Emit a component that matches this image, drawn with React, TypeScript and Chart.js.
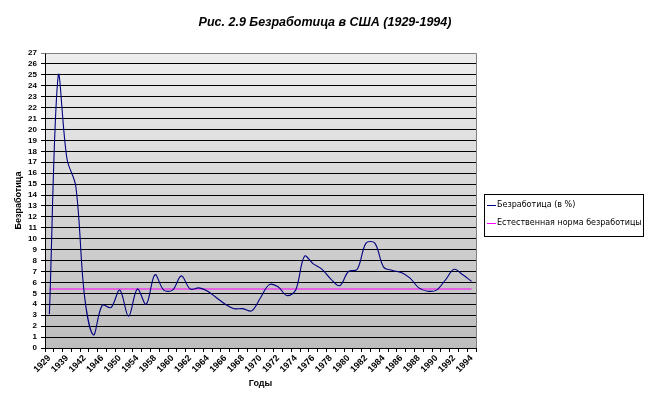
import React, { useEffect, useRef } from 'react';
import { Chart, registerables } from 'chart.js';

Chart.register(...registerables);

// Categories (years) as shown on the category axis
const years = [
  '1929', '1933', '1939', '1940', '1942', '1944', '1946', '1948', '1950', '1952',
  '1954', '1956', '1958', '1959', '1960', '1961', '1962', '1963', '1964', '1965',
  '1966', '1967', '1968', '1969', '1970', '1971', '1972', '1973', '1974', '1975',
  '1976', '1977', '1978', '1979', '1980', '1981', '1982', '1983', '1984', '1985',
  '1986', '1987', '1988', '1989', '1990', '1991', '1992', '1993', '1994',
];

// Unemployment rate, %
const unemployment = [
  3.1, 24.9, 17.3, 14.8, 4.7, 1.2, 3.9, 3.7, 5.3, 2.9,
  5.4, 4.0, 6.7, 5.3, 5.3, 6.6, 5.4, 5.5, 5.2, 4.6,
  4.0, 3.6, 3.6, 3.4, 4.6, 5.8, 5.6, 4.8, 5.3, 8.4,
  7.7, 7.2, 6.3, 5.7, 7.0, 7.2, 9.6, 9.6, 7.4, 7.1,
  6.9, 6.4, 5.5, 5.2, 5.3, 6.2, 7.2, 6.7, 6.1,
];

// Natural rate of unemployment, %
const naturalRate = [
  5.4, 5.4, 5.4, 5.4, 5.4, 5.4, 5.4, 5.4, 5.4, 5.4,
  5.4, 5.4, 5.4, 5.4, 5.4, 5.4, 5.4, 5.4, 5.4, 5.4,
  5.4, 5.4, 5.4, 5.4, 5.4, 5.4, 5.4, 5.4, 5.4, 5.4,
  5.4, 5.4, 5.4, 5.4, 5.4, 5.4, 5.4, 5.4, 5.4, 5.4,
  5.4, 5.4, 5.4, 5.4, 5.4, 5.4, 5.4, 5.4, 5.4,
];

const Y_MIN = 0;
const Y_MAX = 27;
const Y_STEP = 1;

const TITLE = 'Рис. 2.9 Безработица в США (1929-1994)';
const Y_TITLE = 'Безработица';
const X_TITLE = 'Годы';
const SERIES_NAMES = ['Безработица (в %)', 'Естественная норма безработицы'];
const SERIES_COLORS = ['#000080', '#ff00ff'];

const SANS = '"Liberation Sans", Arial, sans-serif';

const decorPlugin = {
  id: 'decor',
  beforeDraw(chart: any) {
    const { ctx, chartArea: a } = chart;
    ctx.save();
    const g = ctx.createLinearGradient(0, a.top, 0, a.bottom);
    g.addColorStop(0, '#eeeeee');
    g.addColorStop(1, '#bdbdbd');
    ctx.fillStyle = g;
    ctx.fillRect(a.left, a.top, a.right - a.left, a.bottom - a.top);
    ctx.restore();
  },
  afterDraw(chart: any) {
    const { ctx, chartArea: a } = chart;
    ctx.save();
    // gray top / right frame
    ctx.strokeStyle = '#808080';
    ctx.lineWidth = 1;
    ctx.beginPath();
    ctx.moveTo(Math.round(a.left) + 0.5, Math.round(a.top) + 0.5);
    ctx.lineTo(Math.round(a.right) + 0.5, Math.round(a.top) + 0.5);
    ctx.lineTo(Math.round(a.right) + 0.5, Math.round(a.bottom));
    ctx.stroke();

    // title
    ctx.fillStyle = '#000';
    ctx.font = 'italic bold 12.5px ' + SANS;
    ctx.textAlign = 'center';
    ctx.textBaseline = 'middle';
    ctx.fillText(TITLE, 325, 23);

    // legend
    const lx = 484, ly = 194, lw = 159, lh = 42;
    ctx.strokeStyle = '#000';
    ctx.strokeRect(lx + 0.5, ly + 0.5, lw, lh);
    ctx.font = '8px "DejaVu Sans", sans-serif';
    ctx.textAlign = 'left';
    ctx.textBaseline = 'middle';
    const rows = [205, 223];
    SERIES_NAMES.forEach((name, i) => {
      ctx.strokeStyle = SERIES_COLORS[i];
      ctx.beginPath();
      ctx.moveTo(487, rows[i] + 0.5);
      ctx.lineTo(496, rows[i] + 0.5);
      ctx.stroke();
      ctx.fillStyle = '#000';
      ctx.fillText(name, 497, rows[i]);
    });
    ctx.restore();
  },
};

export default function App() {
  const ref = useRef<HTMLCanvasElement | null>(null);

  useEffect(() => {
    if (!ref.current) return;
    const chart = new Chart(ref.current, {
      type: 'line',
      data: {
        labels: years,
        datasets: [
          {
            label: SERIES_NAMES[0],
            data: unemployment,
            borderColor: SERIES_COLORS[0],
            borderWidth: 1.1,
            pointRadius: 0,
            tension: 0.35,
            fill: false,
          },
          {
            label: SERIES_NAMES[1],
            data: naturalRate,
            borderColor: SERIES_COLORS[1],
            borderWidth: 1,
            pointRadius: 0,
            tension: 0,
            fill: false,
          },
        ],
      },
      options: {
        responsive: false,
        animation: false,
        devicePixelRatio: 1,
        layout: { padding: { left: 0, top: 53, right: 174, bottom: 0 } },
        plugins: {
          legend: { display: false },
          title: { display: false },
          tooltip: { enabled: false },
        },
        scales: {
          x: {
            type: 'category',
            offset: true,
            afterFit: (s: any) => { s.height = 57; },
            grid: {
              offset: true,
              drawOnChartArea: false,
              drawTicks: true,
              tickLength: 4,
              color: '#000',
            },
            border: { display: true, color: '#000', width: 1 },
            ticks: {
              autoSkip: false,
              minRotation: 45,
              maxRotation: 45,
              padding: 1,
              color: '#000',
              font: { family: SANS, size: 9, weight: 'bold' },
              callback: (_v: any, i: number) => (i % 2 === 0 ? years[i] : ''),
            },
            title: {
              display: true,
              text: X_TITLE,
              color: '#000',
              font: { family: SANS, size: 9, weight: 'bold' },
              padding: { top: 0, bottom: 16 },
            },
          },
          y: {
            min: Y_MIN,
            max: Y_MAX,
            afterFit: (s: any) => { s.width = 45; },
            grid: {
              color: (c: any) => (c.tick && c.tick.value === Y_MAX ? '#808080' : '#000'),
              drawTicks: true,
              tickLength: 4,
              lineWidth: 1,
            },
            border: { display: true, color: '#000', width: 1 },
            ticks: {
              stepSize: Y_STEP,
              autoSkip: false,
              padding: 4,
              color: '#000',
              font: { family: SANS, size: 8, weight: 'bold' },
            },
            title: {
              display: true,
              text: Y_TITLE,
              color: '#000',
              font: { family: SANS, size: 9, weight: 'bold' },
              padding: { top: 13, bottom: 0 },
            },
          },
        },
      },
      plugins: [decorPlugin],
    });
    return () => chart.destroy();
  }, []);

  return (
    <div style={{ position: 'absolute', left: 0, top: 0, width: 650, height: 405, background: '#fff' }}>
      <canvas ref={ref} width={650} height={405} style={{ width: 650, height: 405, display: 'block' }} />
    </div>
  );
}
